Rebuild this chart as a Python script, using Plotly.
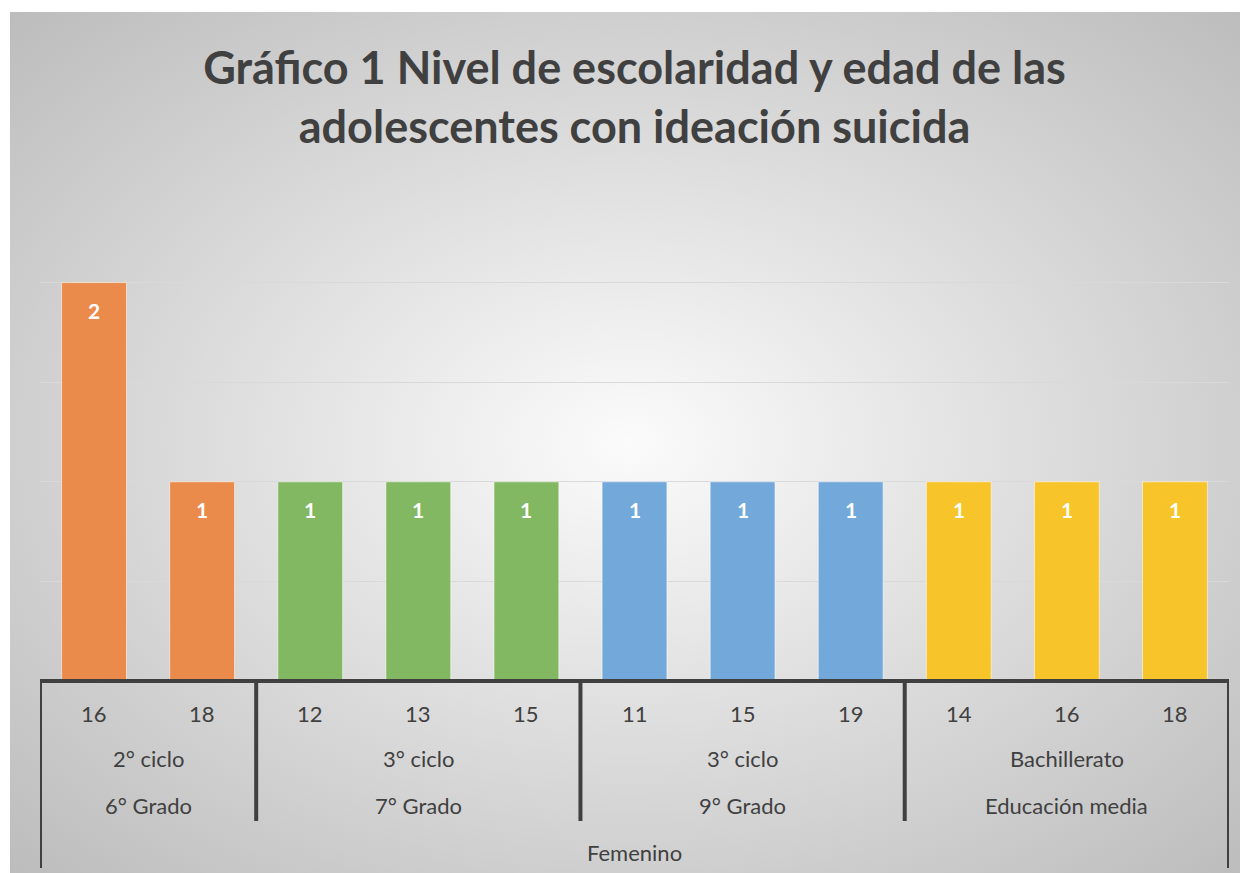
import base64
import plotly.graph_objects as go

# ---- data ----
title_text = "Gráfico 1 Nivel de escolaridad y edad de las<br>adolescentes con ideación suicida"
ages = ["16", "18", "12", "13", "15", "11", "15", "19", "14", "16", "18"]
counts = [2, 1, 1, 1, 1, 1, 1, 1, 1, 1, 1]
ciclo_labels = ["2° ciclo", "3° ciclo", "3° ciclo", "Bachillerato"]
grado_labels = ["6° Grado", "7° Grado", "9° Grado", "Educación media"]
group_sizes = [2, 3, 3, 3]
group_colors = ["#EA8B4B", "#83B862", "#72A8DA", "#F7C429"]
sexo_label = "Femenino"

# ---- layout constants ----
OFF = 8  # page body margin
W, H = 1248 - OFF, 873 - OFF
ML, MT = 40 - OFF, 183 - OFF
MR = W - (1229 - OFF)
MB = H - (681 - OFF)
PH = H - MT - MB
PW = W - ML - MR
FONT = "Lato"
TXT = "#404040"

def py(ref_y):
    """convert a page pixel row to paper y"""
    return (H - MB - (ref_y - OFF)) / PH

x_idx = list(range(len(ages)))
bar_colors = []
for c, n in zip(group_colors, group_sizes):
    bar_colors += [c] * n

fig = go.Figure()
fig.add_trace(go.Bar(
    x=x_idx, y=counts,
    marker=dict(color=bar_colors, line=dict(color="rgba(255,255,255,0.55)", width=1)),
    hoverinfo="skip",
))

annotations = []
for xi, v in zip(x_idx, counts):
    annotations.append(dict(x=xi, y=v, xref="x", yref="y", text=f"<b>{v}</b>",
                            showarrow=False, yshift=-28,
                            font=dict(family=FONT, size=21, color="white")))
for xi, a in zip(x_idx, ages):
    annotations.append(dict(x=xi, y=py(713), xref="x", yref="paper", text=a,
                            showarrow=False, yanchor="middle",
                            font=dict(family=FONT, size=22, color=TXT)))

shapes = []
start = 0
bounds = [-0.5]
for ciclo, grado, n in zip(ciclo_labels, grado_labels, group_sizes):
    center = start + (n - 1) / 2
    annotations.append(dict(x=center, y=py(758), xref="x", yref="paper", text=ciclo,
                            showarrow=False, yanchor="middle",
                            font=dict(family=FONT, size=22, color=TXT)))
    annotations.append(dict(x=center, y=py(805), xref="x", yref="paper", text=grado,
                            showarrow=False, yanchor="middle",
                            font=dict(family=FONT, size=22, color=TXT)))
    start += n
    bounds.append(start - 0.5)

annotations.append(dict(x=(len(ages) - 1) / 2, y=py(852), xref="x", yref="paper",
                        text=sexo_label, showarrow=False, yanchor="middle",
                        font=dict(family=FONT, size=22, color=TXT)))

for i, b in enumerate(bounds):
    outer = i == 0 or i == len(bounds) - 1
    shapes.append(dict(type="line", xref="x", yref="paper", x0=b, x1=b,
                       y0=0, y1=py(868 if outer else 821),
                       line=dict(color=TXT, width=4)))
shapes.append(dict(type="line", xref="x", yref="paper", x0=bounds[0], x1=bounds[-1],
                   y0=0, y1=0, line=dict(color=TXT, width=4)))

# radial gradient background for the chart area
svg = ('<svg xmlns="http://www.w3.org/2000/svg" width="1238" height="861" '
       'viewBox="0 0 1238 861" preserveAspectRatio="none">'
       '<defs><radialGradient id="g" cx="50%" cy="50%" r="72%">'
       '<stop offset="0%" stop-color="#FBFBFB"/>'
       '<stop offset="100%" stop-color="#BBBBBB"/>'
       '</radialGradient></defs>'
       '<rect width="1238" height="861" fill="url(#g)"/></svg>')
src = "data:image/svg+xml;base64," + base64.b64encode(svg.encode()).decode()
img_x0 = (10 - OFF - ML) / PW
images = [dict(source=src, xref="paper", yref="paper", x=img_x0, y=py(12),
               sizex=(1248 - 10) / PW, sizey=(873 - 12) / PH, sizing="stretch",
               xanchor="left", yanchor="top", layer="below")]

fig.update_layout(
    width=W, height=H,
    margin=dict(l=ML, r=MR, t=MT, b=MB, pad=0),
    paper_bgcolor="white", plot_bgcolor="rgba(0,0,0,0)",
    bargap=0.4, showlegend=False,
    title=dict(text=f"<b>{title_text}</b>", x=0.5, xref="paper", xanchor="center",
               y=1 - 76 / H, yref="container", yanchor="middle",
               font=dict(family=FONT, size=45, color=TXT)),
    xaxis=dict(range=[-0.5, len(ages) - 0.5], showticklabels=False, showgrid=False,
               zeroline=False, showline=False, ticks=""),
    yaxis=dict(range=[0, 2.5], dtick=0.5, showticklabels=False, showgrid=True,
               gridcolor="#D9D9D9", gridwidth=1, zeroline=False, showline=False),
    annotations=annotations, shapes=shapes, images=images,
)

fig.write_html("out.html")
